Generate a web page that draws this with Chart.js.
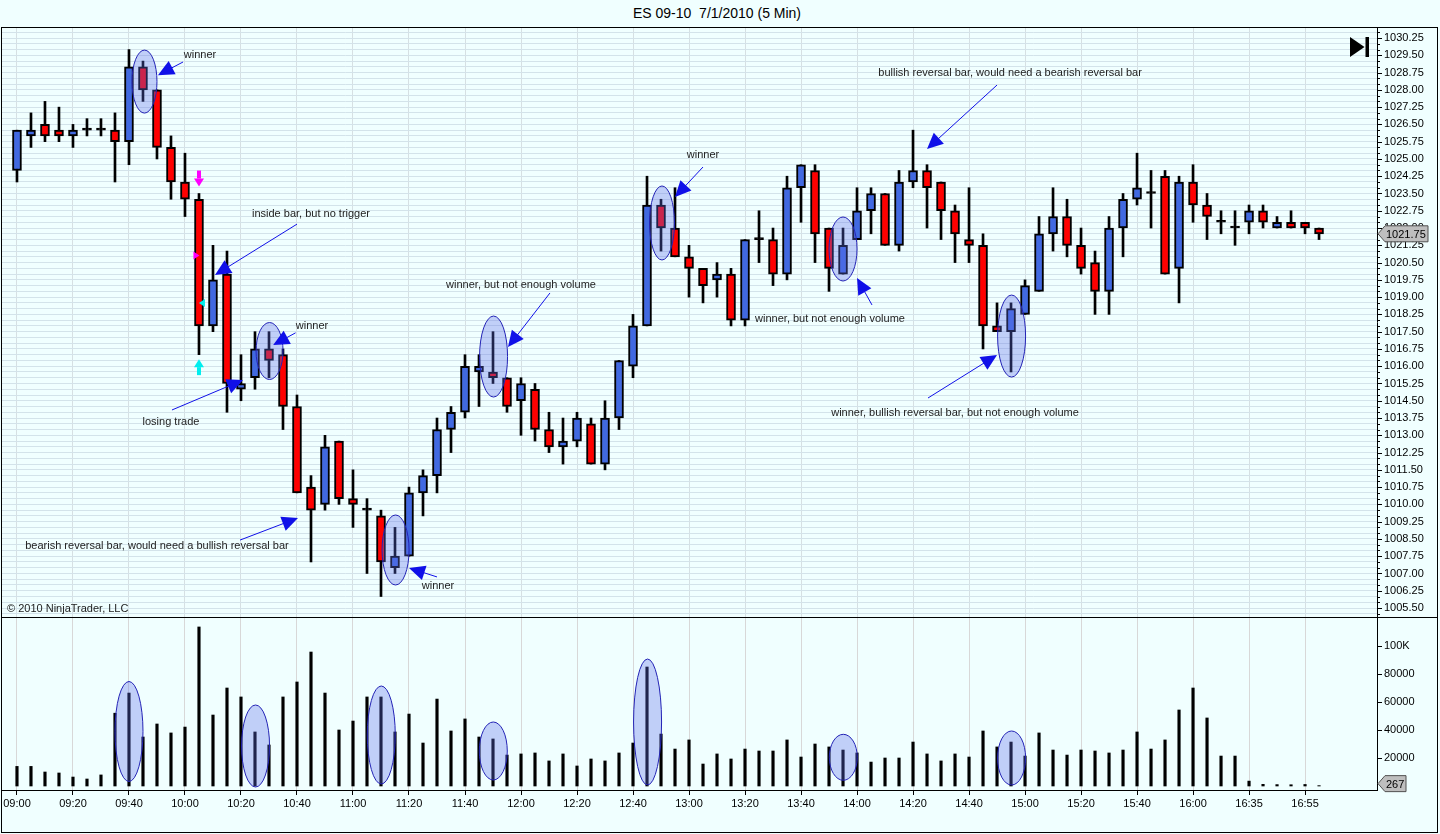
<!DOCTYPE html>
<html><head><meta charset="utf-8">
<script src="https://cdn.jsdelivr.net/npm/chart.js@4.4.1/dist/chart.umd.min.js"></script>
<style>
html,body{margin:0;padding:0;background:#F0FFFF;width:1440px;height:834px;overflow:hidden;font-family:"Liberation Sans",Arial,sans-serif}
#title{position:absolute;left:0;top:5px;width:1434px;text-align:center;font-size:14px;color:#000;line-height:16px}
#pw{position:absolute;left:0;top:27px;width:1440px;height:590px}
#vw{position:absolute;left:0;top:617px;width:1440px;height:217px}
#frame{position:absolute;left:1px;top:27px;width:1435px;height:804px;border:1px solid #000;pointer-events:none}
#sep{position:absolute;left:1px;top:617px;width:1436px;height:1px;background:#000;pointer-events:none}
</style></head>
<body>
<div id="title">ES 09-10&nbsp;&nbsp;7/1/2010 (5 Min)</div>
<div id="pw"><canvas id="pc"></canvas></div>
<div id="vw"><canvas id="vc"></canvas></div>
<div id="frame"></div><div id="sep"></div>
<script>
// ---------------- DATA ----------------
const times = ['09:00','09:05','09:10','09:15','09:20','09:25','09:30','09:35','09:40','09:45','09:50','09:55',
'10:00','10:05','10:10','10:15','10:20','10:25','10:30','10:35','10:40','10:45','10:50','10:55',
'11:00','11:05','11:10','11:15','11:20','11:25','11:30','11:35','11:40','11:45','11:50','11:55',
'12:00','12:05','12:10','12:15','12:20','12:25','12:30','12:35','12:40','12:45','12:50','12:55',
'13:00','13:05','13:10','13:15','13:20','13:25','13:30','13:35','13:40','13:45','13:50','13:55',
'14:00','14:05','14:10','14:15','14:20','14:25','14:30','14:35','14:40','14:45','14:50','14:55',
'15:00','15:05','15:10','15:15','15:20','15:25','15:30','15:35','15:40','15:45','15:50','15:55',
'16:00','16:05','16:10','16:15','16:35','16:40','16:45','16:50','16:55','17:00'];
const timeTickIdx = [0,4,8,12,16,20,24,28,32,36,40,44,48,52,56,60,64,68,72,76,80,84,88,92];

const open = [1024.50,1026.00,1026.50,1026.25,1026.00,1026.25,1026.25,1026.25,1025.75,1029.00,
1028.00,1025.50,1024.00,1023.25,1017.75,1020.00,1015.00,1015.50,1016.75,1016.50,
1014.25,1010.75,1010.00,1012.75,1010.25,1009.75,1009.50,1007.25,1007.75,1010.50,
1011.25,1013.25,1014.00,1015.75,1015.75,1015.50,1014.50,1015.00,1013.25,1012.50,
1012.75,1013.50,1011.75,1013.75,1016.00,1017.75,1023.00,1022.00,1020.75,1020.25,
1019.75,1020.00,1018.00,1021.50,1021.50,1020.00,1023.75,1024.50,1022.00,1020.00,
1021.50,1022.75,1023.50,1021.25,1024.00,1024.50,1024.00,1022.75,1021.50,1021.25,
1017.75,1017.50,1018.25,1019.25,1021.75,1022.50,1021.25,1020.50,1019.25,1022.00,
1023.25,1023.50,1024.25,1020.25,1024.00,1023.00,1022.25,1022.00,1022.25,1022.75,
1022.00,1022.25,1022.25,1022.00];
const high = [1026.25,1027.00,1027.50,1027.25,1026.50,1026.75,1026.75,1027.00,1029.75,1029.25,
1028.00,1026.00,1025.25,1023.50,1021.25,1021.00,1016.50,1017.50,1017.50,1016.75,
1014.75,1011.25,1013.00,1012.75,1011.50,1010.25,1009.75,1009.00,1010.75,1011.50,
1013.75,1014.25,1016.50,1016.50,1017.50,1015.50,1015.50,1015.25,1014.00,1013.75,
1014.00,1013.75,1014.50,1016.25,1018.25,1024.25,1023.25,1023.75,1021.25,1020.25,
1020.50,1020.25,1021.50,1022.75,1022.00,1024.25,1024.75,1024.75,1022.00,1022.00,
1023.75,1023.75,1023.50,1024.50,1026.25,1024.75,1024.00,1023.00,1023.75,1021.75,
1018.75,1018.75,1019.75,1022.50,1023.75,1023.25,1022.00,1021.00,1022.50,1023.50,
1025.25,1024.50,1024.50,1024.25,1024.75,1023.50,1022.75,1022.75,1023.00,1023.00,
1022.50,1022.75,1022.25,1022.00];
const low = [1024.00,1025.50,1025.75,1025.75,1025.50,1026.00,1026.00,1024.00,1024.75,1027.50,
1025.00,1023.25,1022.50,1016.50,1017.50,1014.00,1014.50,1015.00,1015.50,1013.25,
1010.50,1007.50,1009.75,1010.00,1009.00,1007.00,1006.00,1007.00,1007.75,1009.50,
1010.50,1012.25,1013.75,1014.25,1015.25,1014.00,1013.00,1012.75,1012.25,1011.75,
1012.50,1011.75,1011.50,1013.25,1015.50,1017.75,1021.00,1020.75,1019.00,1018.75,
1019.00,1017.75,1017.75,1020.50,1019.50,1019.75,1022.25,1020.50,1019.25,1020.00,
1021.50,1021.75,1021.25,1021.00,1023.75,1022.00,1021.50,1020.50,1020.50,1016.75,
1017.50,1015.75,1018.25,1019.25,1021.00,1020.75,1020.00,1018.25,1018.25,1020.75,
1023.00,1022.00,1020.00,1018.75,1022.25,1021.50,1021.75,1021.25,1021.75,1022.00,
1022.00,1022.00,1021.75,1021.50];
const close = [1026.25,1026.25,1026.00,1026.00,1026.25,1026.25,1026.25,1025.75,1029.00,1028.00,
1025.50,1024.00,1023.25,1017.75,1019.75,1015.25,1015.25,1016.75,1016.25,1014.25,
1010.50,1009.75,1012.50,1010.25,1010.00,1009.75,1007.50,1007.75,1010.50,1011.25,
1013.25,1014.00,1016.00,1016.00,1015.50,1014.25,1015.25,1013.25,1012.50,1012.75,
1013.75,1011.75,1013.75,1016.25,1017.75,1023.00,1022.00,1020.75,1020.25,1019.50,
1020.00,1018.00,1021.50,1021.50,1020.00,1023.75,1024.75,1021.75,1020.25,1021.25,
1022.75,1023.50,1021.25,1024.00,1024.50,1023.75,1022.75,1021.75,1021.25,1017.75,
1017.50,1018.50,1019.50,1021.75,1022.50,1021.25,1020.25,1019.25,1022.00,1023.25,
1023.75,1023.50,1020.00,1024.00,1023.00,1022.50,1022.25,1022.00,1022.75,1022.25,
1022.25,1022.00,1022.00,1021.75];
const volume = [14000,14000,10000,9300,6400,5000,7900,52000,66400,35000,
44300,37900,42100,113600,50700,70000,63600,38600,29300,63600,
74300,95700,66400,40000,46400,63600,63600,38600,51400,30700,
62100,39300,47900,35000,33600,22100,22900,23600,17900,22900,
14300,19300,17900,23600,30700,85000,37100,26400,32900,15700,
22900,19300,26400,25000,25000,32900,20700,30000,27900,25700,
23600,17100,20000,20000,31400,22900,17900,22900,20700,39300,
27900,31400,21400,37900,25700,22100,25700,25000,23600,25700,
38600,26400,32900,54300,70000,48600,21400,21400,3500,1200,
1000,900,1100,267];
const priceTickLabels = ['1005.50','1006.25','1007.00','1007.75','1008.50','1009.25','1010.00','1010.75','1011.50',
'1012.25','1013.00','1013.75','1014.50','1015.25','1016.00','1016.75','1017.50','1018.25','1019.00','1019.75',
'1020.50','1021.25','1022.00','1022.75','1023.50','1024.25','1025.00','1025.75','1026.50','1027.25','1028.00',
'1028.75','1029.50','1030.25'];
const volTickValues = [20000,40000,60000,80000,100000];
const volTickLabels = ['20000','40000','60000','80000','100K'];

// ---------------- ANNOTATIONS (bar index, price / volume) ----------------
const priceEllipses = [[9.107,1028.36,12.5,31.5],[18.04,1016.66,13.5,28.5],[27.04,1008.02,13.5,35],
  [34.04,1016.42,14,40.5],[46.07,1022.22,12.5,37],[59.0,1021.09,14,32],[71.04,1017.31,14,41]];
const priceArrows = [[11.86,1029.21,10.07,1028.64],[20.0,1022.17,14.14,1019.96],[11.07,1014.10,16.14,1015.40],
  [19.9,1017.45,18.3,1016.92],[15.93,1008.45,20.07,1009.41],[30.0,1006.85,28.0,1007.24],
  [38.07,1019.18,35.07,1016.83],[49.0,1024.65,47.0,1023.35],[61.07,1018.66,60.0,1019.83],
  [70.0,1028.21,65.0,1025.43],[65.07,1014.62,70.0,1016.49]];
const priceTexts = [['winner',13.07,1029.51],['inside bar, but no trigger',21.0,1022.61],['losing trade',11.0,1013.58],
  ['winner',21.07,1017.75],['bearish reversal bar, would need a bullish reversal bar',10.0,1008.19],
  ['winner',30.07,1006.46],['winner, but not enough volume',36.0,1019.52],['winner',49.0,1025.17],
  ['winner, but not enough volume',58.07,1018.05],['bullish reversal bar, would need a bearish reversal bar',70.93,1028.73],
  ['winner, bullish reversal bar, but not enough volume',67.0,1013.97]];
const volEllipses = [[8.0,38929,14,50],[17.04,28571,14,41],[26.02,36429,14,49],[34.02,25000,14,29],
  [45.04,45714,14,63],[59.02,20500,14,23],[71.04,20000,14,27]];

const FONT = '"Liberation Sans", Arial, sans-serif';
Chart.defaults.font.family = FONT;
Chart.defaults.font.size = 11;
Chart.defaults.color = '#000';

const idx = open.map((_, i) => i);
const wicks = idx.map(i => ({x: i, y: [low[i], high[i]]}));
const bodies = idx.map(i => ({x: i, y: [Math.min(open[i], close[i]), Math.max(open[i], close[i])]}));
const bodyColor = i => close[i] > open[i] ? '#4169E1' : (close[i] < open[i] ? '#FF0000' : '#000000');

function drawArrow(ctx, x1, y1, x2, y2) {
  const a = Math.atan2(y2 - y1, x2 - x1), L = 16, W = 7.5;
  const c = Math.cos(a), s = Math.sin(a);
  ctx.strokeStyle = '#1010E8'; ctx.fillStyle = '#1010E8'; ctx.lineWidth = 1;
  ctx.beginPath(); ctx.moveTo(x1, y1); ctx.lineTo(x2 - c * L * 0.7, y2 - s * L * 0.7); ctx.stroke();
  const bx = x2 - c * L, by = y2 - s * L;
  ctx.beginPath(); ctx.moveTo(x2, y2);
  ctx.lineTo(bx + s * W, by - c * W);
  ctx.lineTo(bx - s * W, by + c * W);
  ctx.closePath(); ctx.fill();
}
function drawEllipse(ctx, cx, cy, rx, ry) {
  ctx.beginPath(); ctx.ellipse(cx, cy, rx, ry, 0, 0, Math.PI * 2);
  ctx.fillStyle = 'rgba(95,110,235,0.33)'; ctx.fill();
  ctx.strokeStyle = '#2323B5'; ctx.lineWidth = 1; ctx.stroke();
}
function priceMarker(ctx, x0, yy, w, text) {
  ctx.beginPath(); ctx.moveTo(x0, yy); ctx.lineTo(x0 + 7, yy - 8); ctx.lineTo(x0 + w, yy - 8);
  ctx.lineTo(x0 + w, yy + 8); ctx.lineTo(x0 + 7, yy + 8); ctx.closePath();
  ctx.fillStyle = '#BEBEBE'; ctx.fill(); ctx.strokeStyle = '#505050'; ctx.lineWidth = 1; ctx.stroke();
  ctx.fillStyle = '#000'; ctx.font = '11px ' + FONT; ctx.textAlign = 'left'; ctx.textBaseline = 'middle';
  ctx.fillText(text, x0 + 8, yy + 1);
}
// axis tick marks: longer where a label is shown
function drawAxisTicks(chart, isMajor) {
  const {ctx, chartArea: a, scales: {y}} = chart;
  ctx.save(); ctx.strokeStyle = '#000'; ctx.lineWidth = 1;
  y.ticks.forEach(t => {
    const py = Math.round(y.getPixelForValue(t.value)) + 0.5;
    if (py < a.top || py > a.bottom) return;
    const len = isMajor(t.value) ? 5 : 3;
    ctx.beginPath(); ctx.moveTo(a.right, py); ctx.lineTo(a.right + len, py); ctx.stroke();
  });
  ctx.restore();
}
const isPriceMajor = v => priceTickLabels.some(l => Math.abs(parseFloat(l) - v) < 1e-6);

const pricePlugin = {
  id: 'priceAnn',
  afterDatasetsDraw(chart) {
    const {ctx, chartArea: a, scales: {x, y}} = chart;
    ctx.save();
    ctx.beginPath(); ctx.rect(a.left, a.top, a.right - a.left, a.bottom - a.top); ctx.clip();
    priceEllipses.forEach(([xi, p, rx, ry]) => drawEllipse(ctx, x.getPixelForValue(xi), y.getPixelForValue(p), rx, ry));
    priceArrows.forEach(([x1, p1, x2, p2]) => drawArrow(ctx, x.getPixelForValue(x1), y.getPixelForValue(p1), x.getPixelForValue(x2), y.getPixelForValue(p2)));
    // entry / exit markers on bar 13/14
    let cx = x.getPixelForValue(13), cy = y.getPixelForValue(1024.15);
    ctx.fillStyle = '#FF00FF';
    ctx.fillRect(cx - 2, cy - 8, 4, 8);
    ctx.beginPath(); ctx.moveTo(cx - 5, cy); ctx.lineTo(cx + 5, cy); ctx.lineTo(cx, cy + 8); ctx.closePath(); ctx.fill();
    cy = y.getPixelForValue(1015.96);
    ctx.fillStyle = '#00EEEE';
    ctx.fillRect(cx - 2, cy, 4, 8);
    ctx.beginPath(); ctx.moveTo(cx - 5, cy); ctx.lineTo(cx + 5, cy); ctx.lineTo(cx, cy - 8); ctx.closePath(); ctx.fill();
    let mx = x.getPixelForValue(12.82), my = y.getPixelForValue(1020.81);
    ctx.fillStyle = '#FF00FF';
    ctx.beginPath(); ctx.moveTo(mx - 3, my - 4); ctx.lineTo(mx - 3, my + 4); ctx.lineTo(mx + 3, my); ctx.closePath(); ctx.fill();
    mx = x.getPixelForValue(13.21); my = y.getPixelForValue(1018.74);
    ctx.fillStyle = '#00EEEE';
    ctx.beginPath(); ctx.moveTo(mx + 3, my - 4); ctx.lineTo(mx + 3, my + 4); ctx.lineTo(mx - 3, my); ctx.closePath(); ctx.fill();
    // texts
    ctx.font = '11px ' + FONT; ctx.fillStyle = '#222'; ctx.textAlign = 'center'; ctx.textBaseline = 'middle';
    priceTexts.forEach(([t, xi, p]) => ctx.fillText(t, x.getPixelForValue(xi), y.getPixelForValue(p)));
    ctx.textAlign = 'left'; ctx.textBaseline = 'alphabetic'; ctx.fillStyle = '#222';
    ctx.fillText('\u00A9 2010 NinjaTrader, LLC', a.left + 5, a.bottom - 5);
    // go-to-end icon
    ctx.fillStyle = '#000';
    ctx.beginPath(); ctx.moveTo(a.right - 27, a.top + 10); ctx.lineTo(a.right - 27, a.top + 30); ctx.lineTo(a.right - 12.5, a.top + 20); ctx.closePath(); ctx.fill();
    ctx.fillRect(a.right - 11.5, a.top + 10, 3.5, 20);
    ctx.restore();
  },
  afterDraw(chart) {
    const {ctx, chartArea: a, scales: {y}} = chart;
    drawAxisTicks(chart, isPriceMajor);
    ctx.save();
    priceMarker(ctx, a.right + 1, y.getPixelForValue(close[close.length - 1]), 50, close[close.length - 1].toFixed(2));
    ctx.restore();
  }
};

const volPlugin = {
  id: 'volAnn',
  afterDatasetsDraw(chart) {
    const {ctx, chartArea: a, scales: {x, y}} = chart;
    ctx.save();
    ctx.beginPath(); ctx.rect(a.left, a.top, a.right - a.left, a.bottom - a.top); ctx.clip();
    volEllipses.forEach(([xi, v, rx, ry]) => drawEllipse(ctx, x.getPixelForValue(xi), y.getPixelForValue(v), rx, ry));
    ctx.restore();
  },
  afterDraw(chart) {
    const {ctx, chartArea: a, scales: {y}} = chart;
    drawAxisTicks(chart, () => true);
    ctx.save();
    priceMarker(ctx, a.right + 1, y.getPixelForValue(volume[volume.length - 1]) - 2, 28, String(volume[volume.length - 1]));
    ctx.restore();
  }
};

const xCommon = {
  type: 'linear', min: -1.07, max: 97.14, offset: false,
  afterBuildTicks: s => { s.ticks = timeTickIdx.map(v => ({value: v})); }
};
const noPad = s => { s.paddingTop = 0; s.paddingBottom = 0; };

new Chart(document.getElementById('pc'), {
  type: 'bar',
  data: {datasets: [
    {label: 'Body', data: bodies, backgroundColor: c => bodyColor(c.dataIndex), borderColor: '#000', borderWidth: 2,
     borderSkipped: false, barThickness: 9, minBarLength: 2, grouped: false, order: 1},
    {label: 'Wick', data: wicks, backgroundColor: '#000', borderWidth: 0, barThickness: 2, grouped: false, order: 2}
  ]},
  options: {
    responsive: true, maintainAspectRatio: false, animation: false,
    layout: {padding: {left: 2, right: 0, top: 0, bottom: 0}},
    plugins: {legend: {display: false}, tooltip: {enabled: false}},
    scales: {
      x: Object.assign({}, xCommon, {
        ticks: {display: false}, grid: {color: '#D6E0E3', drawTicks: false, offset: false}, border: {display: false},
        afterFit: s => { s.height = 0; s.paddingLeft = 0; s.paddingRight = 0; }
      }),
      y: {
        type: 'linear', position: 'right', min: 1005.11, max: 1030.73,
        afterBuildTicks: s => { const t = []; for (let k = 0; k <= 101; k++) t.push({value: 1005.25 + k * 0.25}); s.ticks = t; },
        ticks: {autoSkip: false, padding: 7, color: '#000', font: {size: 11},
          callback: v => priceTickLabels.find(l => Math.abs(parseFloat(l) - v) < 1e-6) || ''},
        grid: {color: '#D3E3EA', drawTicks: false},
        border: {display: true, color: '#000', width: 1},
        afterFit: s => { s.width = 63; noPad(s); }
      }
    }
  },
  plugins: [pricePlugin]
});

new Chart(document.getElementById('vc'), {
  type: 'bar',
  data: {datasets: [
    {label: 'Volume', data: volume.map((v, i) => ({x: i, y: v})), backgroundColor: '#000', borderWidth: 0, barThickness: 2.5, grouped: false}
  ]},
  options: {
    responsive: true, maintainAspectRatio: false, animation: false,
    layout: {padding: {left: 2, right: 0, top: 1, bottom: 0}},
    plugins: {legend: {display: false}, tooltip: {enabled: false}},
    scales: {
      x: Object.assign({}, xCommon, {
        ticks: {autoSkip: false, maxRotation: 0, padding: 2, color: '#000', font: {size: 11},
          callback: v => times[v] || ''},
        grid: {color: '#D8D8D8', tickLength: 5, tickColor: '#000', offset: false},
        border: {display: true, color: '#000', width: 1},
        afterFit: s => { s.height = 44; s.paddingLeft = 0; s.paddingRight = 0; }
      }),
      y: {
        type: 'linear', position: 'right', min: -2857, max: 120000,
        afterBuildTicks: s => { s.ticks = volTickValues.map(v => ({value: v})); },
        ticks: {autoSkip: false, padding: 7, color: '#000', font: {size: 11},
          callback: v => volTickLabels[volTickValues.indexOf(v)] || ''},
        grid: {drawOnChartArea: false, drawTicks: false},
        border: {display: true, color: '#000', width: 1},
        afterFit: s => { s.width = 63; noPad(s); }
      }
    }
  },
  plugins: [volPlugin]
});
</script>
</body></html>
